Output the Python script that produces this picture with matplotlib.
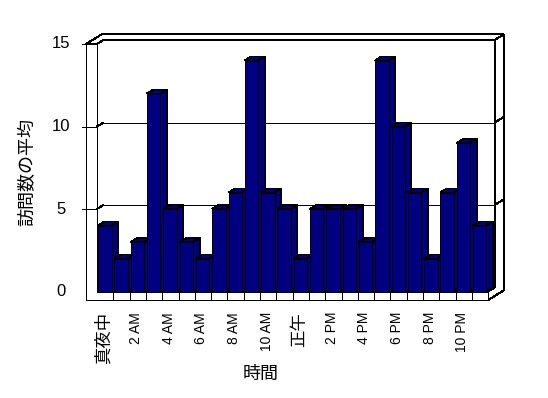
import matplotlib
matplotlib.use("Agg")
import matplotlib.pyplot as plt

# Durchschnittliche Besuche pro Stunde
values = [4, 2, 3, 12, 5, 3, 2, 5, 6, 14, 6, 5, 2, 5, 5, 5, 3, 14, 10, 6, 2, 6, 9, 4]
hour_labels = ["真夜中", "2 AM", "4 AM", "6 AM", "8 AM", "10 AM",
               "正午", "2 PM", "4 PM", "6 PM", "8 PM", "10 PM"]
y_ticks = [0, 5, 10, 15]
x_title = "時間"
y_title = "訪問数の平均"

BAR_COLOR = "#000080"
CJK_FONT = ["Noto Sans CJK JP", "DejaVu Sans"]
LATIN_FONT = ["Liberation Sans", "DejaVu Sans"]

# Pseudo-3D Geometrie (Pixel pro Einheit)
PX_X = 16.3
PX_Y = 16.5
DX = 6.5 / PX_X      # Tiefenversatz x pro z
DV = 4.0 / PX_Y      # Tiefenversatz y pro z
WALL = 11 / PX_X     # Dicke der linken Wand
FLOOR = 8.5 / PX_Y   # Dicke des Bodens
Z_BACK = 1.0         # Vorderseite der Rückwand
Z_END = 2.4          # Rückseite der Rückwand
BAR_DEPTH = 1.0
LW = 0.72            # 1 Pixel


def proj(x, v, z):
    return x + z * DX, v + z * DV


def face(ax, pts, fc="white", zorder=1):
    xs, ys = zip(*[proj(*p) for p in pts])
    ax.fill(xs, ys, facecolor=fc, edgecolor="black", linewidth=LW,
            joinstyle="miter", antialiased=False, zorder=zorder)


def line(ax, p0, p1, zorder=2):
    (x0, y0), (x1, y1) = proj(*p0), proj(*p1)
    ax.plot([x0, x1], [y0, y1], color="black", linewidth=LW, zorder=zorder,
            solid_capstyle="butt", antialiased=False)


def main():
    fig = plt.figure(figsize=(5.48, 3.98), dpi=100)
    ax = fig.add_axes([0, 0, 1, 1])
    ax.set_xlim(-97 / PX_X, (548 - 97) / PX_X)
    ax.set_ylim((291.5 - 398) / PX_Y, 291.5 / PX_Y)
    ax.axis("off")

    n = len(values)
    top = y_ticks[-1]

    # Rückwand (mit Innenseite der linken Wand), Deckflächen, Boden
    face(ax, [(0, 0, 0), (0, top, 0), (0, top, Z_BACK), (n, top, Z_BACK),
              (n, 0, Z_BACK), (0, 0, Z_BACK)])
    face(ax, [(-WALL, top, 0), (0, top, 0), (0, top, Z_BACK), (n, top, Z_BACK),
              (n, top, Z_END), (-WALL, top, Z_END)])
    face(ax, [(n, top, Z_BACK), (n, top, Z_END), (n, -FLOOR, Z_END),
              (n, -FLOOR, 0), (n, 0, 0), (n, 0, Z_BACK)])
    face(ax, [(0, 0, 0), (n, 0, 0), (n, 0, Z_BACK), (0, 0, Z_BACK)])
    face(ax, [(-WALL, -FLOOR, 0), (n, -FLOOR, 0), (n, 0, 0), (0, 0, 0),
              (0, top, 0), (-WALL, top, 0)])

    # Gitterlinien und Achsenstriche
    tick = 3.6 / PX_X
    for g in y_ticks[1:]:
        line(ax, (-WALL - tick, g, 0), (-WALL, g, 0))
        if g < top:
            line(ax, (-WALL, g, 0), (0, g, 0))
            line(ax, (0, g, 0), (0, g, Z_BACK))
            line(ax, (0, g, Z_BACK), (n, g, Z_BACK))
            line(ax, (n, g, Z_BACK), (n, g, Z_END))
    for i in range(1, n):
        line(ax, (i, -FLOOR, 0), (i, 0, 0))

    # Säulen von links nach rechts
    for i, h in enumerate(values):
        x0, x1 = i + 0.07, i + 0.89
        z1 = BAR_DEPTH
        face(ax, [(x1, 0, 0), (x1, 0, z1), (x1, h, z1), (x1, h, 0)], BAR_COLOR, 3)
        face(ax, [(x0, h, 0), (x1, h, 0), (x1, h, z1), (x0, h, z1)], BAR_COLOR, 3)
        face(ax, [(x0, 0, 0), (x1, 0, 0), (x1, h, 0), (x0, h, 0)], BAR_COLOR, 3)

    # Beschriftungen
    for g in y_ticks:
        ax.text(-2.18, g, str(g), ha="center", va="center", fontsize=12,
                family=LATIN_FONT)
    for k, lab in enumerate(hour_labels):
        cjk = any(ord(c) > 0x2E80 for c in lab)
        ax.text(2 * k + 0.4, (291.5 - 312) / PX_Y, lab, rotation=90,
                ha="center", va="top", fontsize=12.5 if cjk else 10,
                family=CJK_FONT if cjk else LATIN_FONT)
    ax.text((261 - 97) / PX_X, (291.5 - 374) / PX_Y, x_title, ha="center",
            va="center", fontsize=13, family=CJK_FONT)
    ax.text((27.5 - 97) / PX_X, (291.5 - 172) / PX_Y, y_title, rotation=90,
            ha="center", va="center", fontsize=13, family=CJK_FONT)

    fig.savefig("out.png", dpi=100)
    plt.close(fig)


if __name__ == "__main__":
    main()
